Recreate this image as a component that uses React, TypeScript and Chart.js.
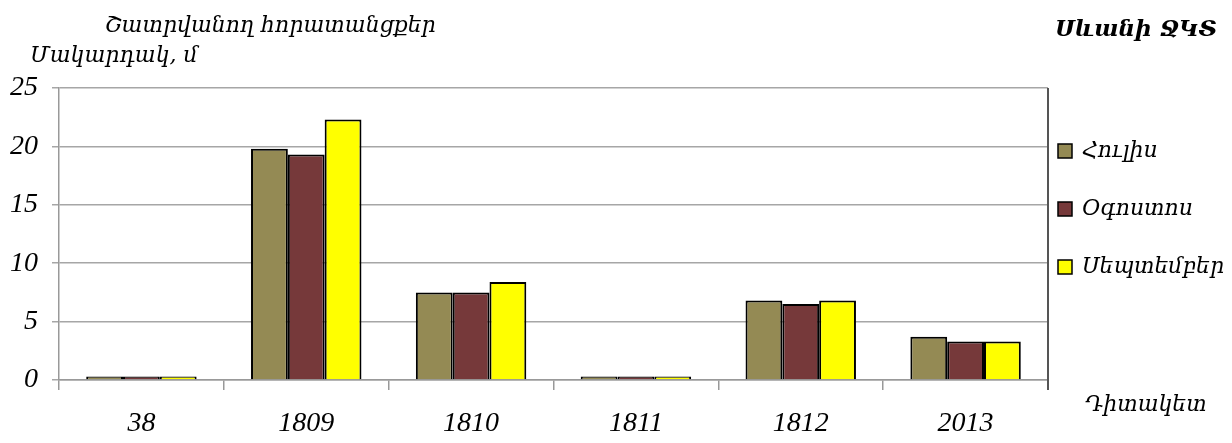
import React, { useEffect, useRef } from "react";
import { Chart, registerables } from "chart.js";

Chart.register(...registerables);

const categories = ["38", "1809", "1810", "1811", "1812", "2013"];
const seriesNames = ["Հուլիս", "Օգոստոս", "Սեպտեմբեր"];
const julyValues = [0.3, 19.8, 7.5, 0.3, 6.8, 3.7];
const augustValues = [0.3, 19.3, 7.5, 0.3, 6.5, 3.3];
const septemberValues = [0.3, 22.3, 8.4, 0.3, 6.8, 3.3];
const seriesColors = ["#948A54", "#76393A", "#FFFF00"];
const titleText = "Շատրվանող հորատանցքեր";
const yAxisTitle = "Մակարդակ, մ";
const cornerTitle = "Սևանի ՋԿՏ";
const xAxisTitle = "Դիտակետ";

const FONT = "'Liberation Serif', serif";
const ARM = "'DejaVu Serif', serif";

const decorPlugin = {
  id: "decor",
  afterDraw(chart: any) {
    const ctx = chart.ctx;
    const area = chart.chartArea;
    ctx.save();
    ctx.strokeStyle = "#555555";
    ctx.lineWidth = 2;
    ctx.beginPath();
    ctx.moveTo(area.right, area.top);
    ctx.lineTo(area.right, area.bottom + 10);
    ctx.stroke();

    ctx.fillStyle = "#000";
    ctx.textBaseline = "middle";
    ctx.textAlign = "left";
    ctx.font = `italic 22px ${ARM}`;
    ctx.fillText(titleText, 105, 26);
    ctx.fillText(yAxisTitle, 30, 56);
    ctx.fillText(xAxisTitle, 1085, 405);
    ctx.font = `italic bold 23px ${ARM}`;
    ctx.fillText(cornerTitle, 1055, 30);

    ctx.font = `italic 22px ${ARM}`;
    const ys = [151, 209, 267];
    chart.data.datasets.forEach((ds: any, i: number) => {
      const y = ys[i];
      ctx.fillStyle = ds.backgroundColor;
      ctx.fillRect(1058, y - 7, 14, 14);
      ctx.strokeStyle = "#000";
      ctx.lineWidth = 1.5;
      ctx.strokeRect(1058, y - 7, 14, 14);
      ctx.fillStyle = "#000";
      ctx.fillText(ds.label, 1082, y);
    });
    ctx.restore();
  },
};

export default function App() {
  const ref = useRef<HTMLCanvasElement | null>(null);
  useEffect(() => {
    if (!ref.current) return;
    const values = [julyValues, augustValues, septemberValues];
    const chart = new Chart(ref.current, {
      type: "bar",
      data: {
        labels: categories,
        datasets: seriesNames.map((name, i) => ({
          label: name,
          data: values[i],
          backgroundColor: seriesColors[i],
          borderColor: "#000000",
          borderWidth: 2,
          categoryPercentage: 0.67,
          barPercentage: 1,
        })),
      },
      options: {
        animation: false,
        responsive: false,
        maintainAspectRatio: false,
        layout: { padding: { top: 88, right: 184, bottom: 0, left: 0 } },
        plugins: {
          legend: { display: false },
          tooltip: { enabled: false },
        },
        scales: {
          x: {
            grid: {
              display: true,
              offset: true,
              drawOnChartArea: false,
              drawTicks: true,
              tickLength: 10,
              color: "#999999",
              lineWidth: 1.5,
            },
            border: { display: true, color: "#999999", width: 1.5 },
            ticks: {
              color: "#000",
              font: { family: FONT, size: 28, style: "italic" },
              padding: 17,
            },
            afterFit(scale: any) {
              scale.height = 63;
            },
          },
          y: {
            min: 0,
            max: 25,
            ticks: {
              stepSize: 5,
              color: "#000",
              font: { family: FONT, size: 28, style: "italic" },
              padding: 14,
            },
            grid: {
              color: "#A6A6A6",
              lineWidth: 1.5,
              tickLength: 7,
            },
            border: { display: true, color: "#999999", width: 1.5 },
            afterFit(scale: any) {
              scale.width = 59;
            },
          },
        },
      },
      plugins: [decorPlugin],
    });
    return () => chart.destroy();
  }, []);
  return (
    <div style={{ position: "fixed", left: 0, top: 0, width: 1232, height: 443, background: "#fff" }}>
      <canvas ref={ref} width={1232} height={443} style={{ width: 1232, height: 443 }} />
    </div>
  );
}
